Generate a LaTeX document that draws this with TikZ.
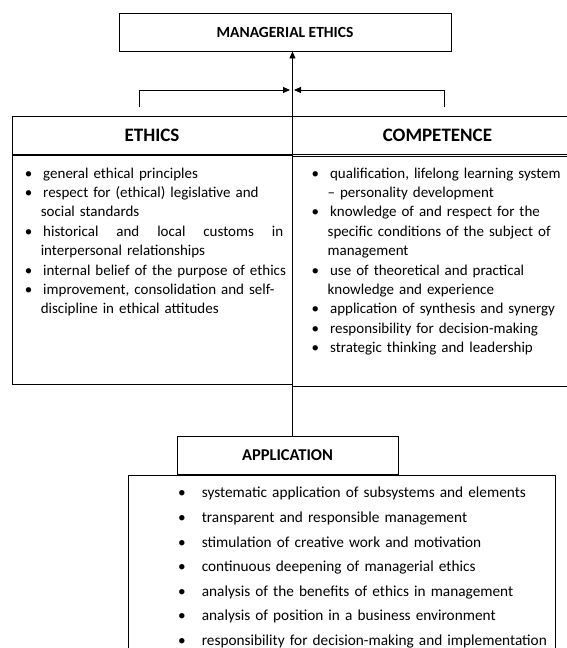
\documentclass[tikz,border=0pt]{standalone}
\usepackage{fontspec}
\setmainfont{Carlito}
\usepackage{enumitem}
\usetikzlibrary{positioning, arrows.meta}

\setlist[itemize]{label=\textbullet, nosep, align=left, labelwidth=5pt}

\begin{document}
\begin{tikzpicture}[
    x=1pt, y=-1pt,
    every node/.style={inner sep=0pt},
    box/.style={draw, line width=0.9pt},
    head/.style={font=\fontsize{19}{22}\selectfont\bfseries},
    caption/.style={font=\fontsize{#1}{18}\selectfont\bfseries},
    list/.style={font=\fontsize{15}{19.4}\selectfont, anchor=north west, align=left},
    link/.style={line width=0.9pt, -{Triangle[length=7pt, width=6pt]}},
]
\useasboundingbox (0,0) rectangle (567,648);
\clip (0,0) rectangle (567,648);

% ── Top box ──────────────────────────────────────────────────────────────────
\node[box, caption=15.5, minimum width=332pt, minimum height=38pt] (mgr) at (285,32) {MANAGERIAL ETHICS};

% ── Ethics and competence columns ────────────────────────────────────────────
\node[box, head, minimum width=280pt, minimum height=38pt] (ethics) at (152,135) {ETHICS};
\node[box, head, minimum width=289pt, minimum height=38pt, right=0pt of ethics] (comp) {COMPETENCE};
\node[box, minimum width=280pt, minimum height=229pt, below=1pt of ethics] (ethbody) {};
\node[box, minimum width=289pt, minimum height=230pt, below=2pt of comp] (compbody) {};

\node[list, text width=275pt] (ethlist) at ([shift={(13pt,-3pt)}]ethbody.north west) {%
\begin{itemize}[leftmargin=16pt, labelsep=11pt]
  \item general ethical principles
  \item respect for (ethical) legislative and\\ social standards
  \item \makebox[240pt][l]{historical\hfill and\hfill local\hfill customs\hfill in}\\ interpersonal relationships
  \item internal belief of the purpose of ethics
  \item improvement, consolidation and self-\\discipline in ethical attitudes
\end{itemize}};

\node[list, text width=280pt] (complist) at ([shift={(19pt,-2pt)}]compbody.north west) {%
\begin{itemize}[leftmargin=16pt, labelsep=11pt]
  \item qualification, lifelong learning system\\ – personality development
  \item knowledge of and respect for the\\ specific conditions of the subject of\\ management
  \item use of theoretical and practical\\ knowledge and experience
  \item application of synthesis and synergy
  \item responsibility for decision-making
  \item strategic thinking and leadership
\end{itemize}};

% ── Application ──────────────────────────────────────────────────────────────
\node[box, caption=16.5, minimum width=221pt, minimum height=38pt] (app) at (287.5,455) {APPLICATION};
\node[box, minimum width=427pt, minimum height=185pt, anchor=north west] (appbody) at (128,475) {};

\node[list, text width=370pt, font=\fontsize{15.3}{24.6}\selectfont] (applist) at ([shift={(50pt,2pt)}]appbody.north west) {%
\begin{itemize}[leftmargin=21pt, labelsep=16pt]
  \item systematic application of subsystems and elements
  \item transparent and responsible management
  \item stimulation of creative work and motivation
  \item continuous deepening of managerial ethics
  \item analysis of the benefits of ethics in management
  \item analysis of position in a business environment
  \item responsibility for decision-making and implementation
\end{itemize}};

% ── Connectors ───────────────────────────────────────────────────────────────
\coordinate (ljn) at (139,107);
\coordinate (rjn) at (444,107);
\coordinate (jn) at (292,90);
\draw[link] (ethics.north east |- app.north) -- (ethics.north east |- mgr.south);
\draw[link] (ljn) |- ([xshift=-2pt]jn);
\draw[link] (rjn) |- ([xshift=2pt]jn);

\end{tikzpicture}
\end{document}
